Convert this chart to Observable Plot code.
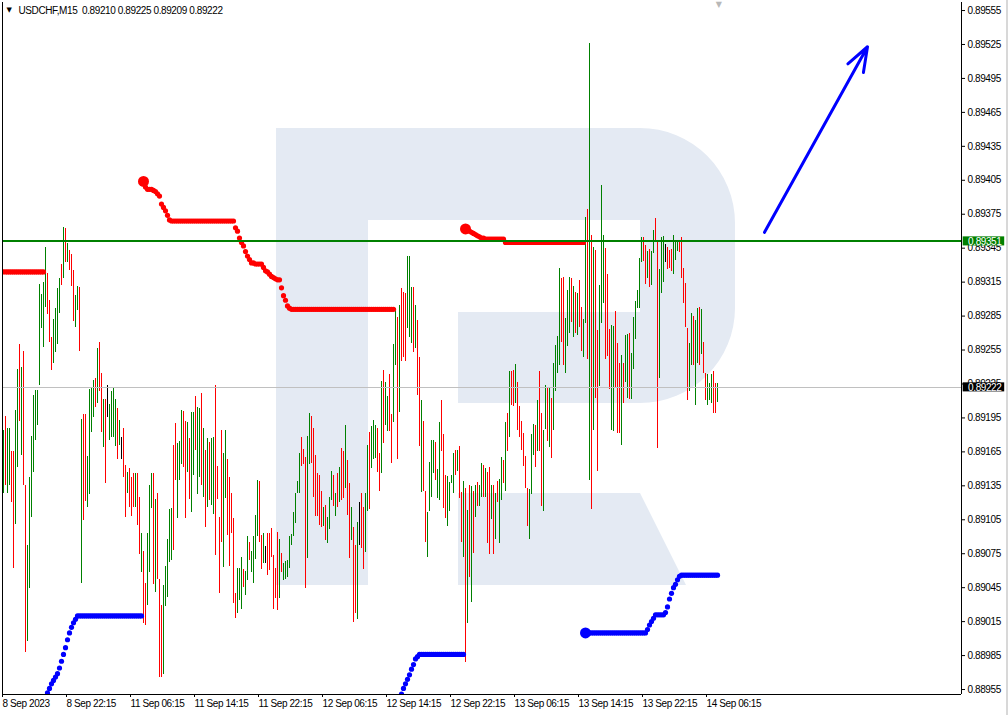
<!DOCTYPE html>
<html><head><meta charset="utf-8">
<script src="https://cdn.jsdelivr.net/npm/d3@7"></script>
<script src="https://cdn.jsdelivr.net/npm/@observablehq/plot@0.6"></script>
<style>
html,body{margin:0;padding:0;background:#fff;}
#wrap{position:relative;width:1008px;height:715px;overflow:hidden;background:#fff;}
#logo{position:absolute;left:0;top:0;}
#chart{position:absolute;left:0;top:0;}
#edge{position:absolute;right:0;top:0;width:2px;height:715px;background:#d8d8d8;}
</style></head><body>
<div id="wrap">
<svg id="logo" width="1008" height="715">
  <g fill="#e4eaf3">
    <rect x="276" y="128" width="92" height="457"/>
    <path d="M368,128 H640 A95,95 0 0 1 735,223 V308 A95,95 0 0 1 640,403 H458 V312 H640 V220 H368 Z"/>
    <path d="M458,493 H640 L686,585 H458 Z"/>
  </g>
</svg>
<div id="chart"></div>
<div id="edge"></div>
</div>
<script>
// ---- Data (prices in 1e-5 units) ----
const symbolTitle = "USDCHF,M15\u00a0\u00a00.89210 0.89225 0.89209 0.89222";

const timeTickIndex = [0,32,64,96,128,160,192,224,256,288,320,352];
const timeTickLabels = ["8 Sep 2023","8 Sep 22:15","11 Sep 06:15","11 Sep 14:15","11 Sep 22:15","12 Sep 06:15","12 Sep 14:15","12 Sep 22:15","13 Sep 06:15","13 Sep 14:15","13 Sep 22:15","14 Sep 06:15"];

const priceTicks = [0.89555,0.89525,0.89495,0.89465,0.89435,0.89405,0.89375,0.89345,0.89315,0.89285,0.89255,0.89225,0.89195,0.89165,0.89135,0.89105,0.89075,0.89045,0.89015,0.88985,0.88955];

// bar direction: 1 = up (green), 0 = down (red), 2 = doji (black)
const barDir = [
1,0,1,1,0,0,1,1,0,1, 0,0,1,1,1,1,1,1,1,1, 1,1,0,0,0,1,1,1,1,0, 1,0,1,0,0,0,1,1,0,1,
0,0,1,1,1,1,0,1,0,0, 1,0,2,1,1,1,1,0,1,2, 0,0,1,0,0,0,1,0,0,1, 0,0,1,1,1,0,1,0,0,0,
1,1,1,1,1,0,0,1,1,1, 0,0,1,0,1,1,0,1,1,0, 1,0,1,0,1,1,0,0,0,0, 1,1,0,0,0,0,0,1,1,1,
0,1,1,0,1,1,1,1,0,0, 1,2,0,0,0,0,0,0,1,0, 1,1,1,1,1,1,1,1,1,0, 0,0,1,1,0,0,0,0,0,0,
1,0,1,1,1,0,1,0,1,0, 0,1,0,0,1,0,0,1,2,0, 0,1,1,0,1,1,1,0,0,1, 0,1,1,0,0,1,1,0,1,0,
0,0,1,1,1,0,1,0,0,1, 0,0,1,1,1,1,0,1,1,0, 0,0,1,1,1,1,0,1,0,0, 1,0,1,0,1,0,1,0,1,1,
0,1,0,0,1,0,1,0,1,1, 0,1,0,1,0,0,1,0,0,0, 0,0,0,1,1,1,0,1,0,0, 1,1,0,1,0,1,1,1,1,0,
0,1,1,1,0,1,0,1,0,0, 1,1,0,1,0,1,0,0,1,1, 1,0,0,0,1,1,0,0,0,1, 0,1,1,0,1,1,1,1,1,1,
0,0,1,0,1,1,0,0,1,1, 1,2,0,0,0,1,1,1,0,0, 0,0,0,1,1,0,1,1,0,1, 0,0,1,1,1,0,0,1
];

const highPts = [
89184,89196,89186,89186,89165,89165,89202,89238,89260,89240,
89254,89135,89082,89142,89179,89215,89219,89219,89313,89304,
89315,89346,89323,89299,89266,89282,89292,89309,89318,89331,
89363,89362,89349,89343,89339,89325,89303,89311,89310,89194,
89198,89198,89161,89220,89222,89228,89230,89256,89262,89234,
89211,89211,89224,89207,89218,89222,89211,89203,89193,89178,
89186,89153,89147,89150,89142,89146,89146,89146,89125,89093,
89077,89049,89093,89135,89146,89146,89123,89128,89052,89029,
89047,89064,89088,89114,89115,89171,89190,89172,89174,89202,
89201,89192,89191,89177,89200,89200,89214,89204,89203,89217,
89186,89166,89177,89173,89177,89178,89224,89152,89107,89184,
89164,89184,89158,89142,89128,89106,89040,89062,89062,89072,
89061,89059,89090,89085,89077,89090,89109,89140,89139,89091,
89093,89081,89093,89093,89097,89073,89062,89094,89088,89075,
89066,89068,89069,89090,89092,89111,89128,89139,89164,89178,
89167,89160,89179,89199,89196,89186,89162,89146,89144,89130,
89116,89118,89107,89125,89148,89144,89128,89146,89151,89168,
89165,89188,89157,89137,89116,89098,89082,89103,89120,89128,
89116,89128,89171,89182,89187,89193,89188,89186,89164,89227,
89237,89226,89214,89233,89198,89260,89292,89284,89294,89309,
89306,89305,89338,89338,89310,89310,89294,89281,89248,89210,
89192,89130,89111,89156,89175,89175,89173,89149,89191,89210,
89180,89144,89143,89138,89144,89164,89166,89166,89170,89129,
89139,89133,89113,89135,89134,89130,89135,89138,89135,89155,
89153,89150,89147,89151,89135,89135,89128,89139,89141,89160,
89157,89191,89199,89236,89236,89237,89242,89226,89205,89192,
89181,89161,89133,89132,89180,89189,89188,89210,89236,89199,
89184,89224,89222,89222,89212,89243,89259,89267,89327,89318,
89319,89283,89308,89319,89318,89311,89306,89305,89316,89293,
89282,89372,89379,89526,89356,89346,89343,89272,89312,89400,
89356,89345,89322,89273,89277,89276,89289,89261,89243,89250,
89243,89268,89269,89270,89252,89284,89298,89308,89336,89354,
89354,89347,89342,89344,89342,89361,89371,89352,89326,89354,
89355,89348,89346,89343,89344,89356,89352,89350,89350,89354,
89327,89314,89274,89261,89287,89285,89281,89292,89293,89291,
89262,89234,89233,89225,89233,89236,89225,89225
];

const lowPts = [
89128,89135,89128,89135,89120,89062,89101,89151,89192,89162,
89135,88988,88997,89044,89107,89147,89175,89188,89224,89274,
89257,89293,89286,89262,89237,89243,89253,89260,89287,89312,
89318,89332,89332,89325,89311,89280,89275,89290,89254,89049,
89104,89121,89116,89127,89182,89195,89204,89208,89218,89182,
89169,89137,89195,89175,89178,89178,89170,89158,89171,89158,
89142,89107,89128,89116,89108,89116,89116,89100,89074,89058,
89013,89012,89029,89058,89115,89048,89041,89052,88966,88966,
88968,89028,89036,89067,89069,89078,89140,89106,89140,89154,
89151,89106,89147,89123,89111,89144,89166,89127,89142,89135,
89125,89098,89116,89122,89118,89110,89073,89123,89040,89085,
89063,89124,89091,89064,89093,89031,89018,89022,89034,89026,
89045,89038,89051,89069,89058,89049,89070,89090,89085,89061,
89066,89066,89056,89060,89072,89026,89035,89025,89035,89058,
89051,89052,89054,89062,89082,89090,89102,89128,89128,89152,
89154,89044,89071,89154,89155,89125,89108,89108,89100,89098,
89099,89087,89084,89096,89122,89117,89108,89116,89120,89122,
89124,89133,89109,89071,89087,89014,89022,89017,89082,89080,
89061,89076,89112,89114,89150,89158,89159,89147,89130,89146,
89172,89188,89183,89183,89155,89191,89241,89158,89200,89245,
89248,89245,89274,89266,89261,89253,89256,89215,89170,89129,
89130,89085,89072,89112,89125,89146,89140,89124,89122,89165,
89115,89106,89099,89112,89137,89128,89144,89148,89124,89085,
89072,88979,89013,89054,89032,89075,89107,89117,89117,89125,
89125,89125,89084,89074,89105,89074,89088,89120,89084,89122,
89137,89130,89165,89178,89206,89205,89208,89184,89178,89166,
89152,89133,89099,89088,89127,89162,89151,89165,89165,89117,
89112,89185,89174,89169,89159,89184,89218,89234,89241,89262,
89241,89234,89258,89270,89279,89266,89270,89268,89275,89254,
89248,89278,89247,89140,89114,89184,89212,89148,89223,89278,
89296,89247,89249,89220,89184,89183,89221,89181,89181,89171,
89208,89226,89212,89211,89211,89238,89264,89292,89292,89332,
89333,89313,89318,89310,89312,89340,89350,89168,89230,89305,
89315,89332,89326,89327,89324,89322,89334,89342,89341,89318,
89296,89275,89210,89218,89241,89241,89206,89243,89241,89251,
89234,89210,89206,89210,89208,89199,89199,89209
];

// Parabolic SAR segments: first bar index, side, and values per bar
const sarStart = [0, 22, 70, 199, 231, 291];
const sarSide = ["upper","lower","upper","lower","upper","lower"];
const sarBigFirst = [false, false, true, false, true, true];
const sarRed1 = [
89324,89324,89324,89324,89324,89324,89324,89324,89324,89324,
89324,89324,89324,89324,89324,89324,89324,89324,89324,89324,
89324];
const sarBlue1 = [
88952,88956,88960,88963,88966,88969,88974,88980,88986,88992,
88999,89005,89010,89014,89017,
89020,89020,89020,89020,89020,89020,89020,89020,89020,89020,
89020,89020,89020,89020,89020,89020,89020,89020,89020,89020,
89020,89020,89020,89020,89020,89020,89020,89020,89020,89020,
89020,89020,89020];
const sarRed2 = [
89404,89399,89397,89397,89397,89396,89395,89393,89391,89384,
89381,89378,89374,89370,
89369,89369,89369,89369,89369,89369,89369,89369,89369,89369,
89369,89369,89369,89369,89369,89369,89369,89369,89369,89369,
89369,89369,89369,89369,89369,89369,89369,89369,89369,89369,
89369,89369,
89363,89360,89354,89350,89347,89342,89338,89335,89332,89332,
89331,89331,89331,89331,89328,89325,89324,89322,89320,89319,
89318,89317,89317,
89310,89303,89299,89294,89292,
89291,89291,89291,89291,89291,89291,89291,89291,89291,89291,
89291,89291,89291,89291,89291,89291,89291,89291,89291,89291,
89291,89291,89291,89291,89291,89291,89291,89291,89291,89291,
89291,89291,89291,89291,89291,89291,89291,89291,89291,89291,
89291,89291,89291,89291,89291,89291,89291,89291,89291,89291,
89291,89291];
const sarBlue2 = [
88951,88956,88960,88964,88968,88973,88977,88982,88984,
88986,88986,88986,88986,88986,88986,88986,88986,88986,88986,
88986,88986,88986,88986,88986,88986,88986,88986,88986,88986,
88986,88986,88986];
const sarRed3 = [
89362,89361,89360,89359,89358,89357,89356,89355,89354,89354,
89353,89353,89353,89353,89353,89353,89353,89353,89353,89353,
89350,89350,89350,89350,89350,89350,89350,89350,89350,89350,
89350,89350,89350,89350,89350,89350,89350,89350,89350,89350,
89350,89350,89350,89350,89350,89350,89350,89350,89350,89350,
89350,89350,89350,89350,89350,89350,89350,89350,89350,89350];
const sarBlue3 = [
89005,89005,89005,89005,89005,89005,89005,89005,89005,89005,
89005,89005,89005,89005,89005,89005,89005,89005,89005,89005,
89005,89005,89005,89005,89005,89005,89005,89005,89005,89005,
89005,
89008,89012,89015,89018,89021,89021,89021,89021,89021,89023,
89028,89035,89040,89045,89048,89052,89055,
89056,89056,89056,89056,89056,89056,89056,89056,89056,89056,
89056,89056,89056,89056,89056,89056,89056,89056,89056];
const sarValues = [sarRed1, sarBlue1, sarRed2, sarBlue2, sarRed3, sarBlue3];

const levelLine = 0.89351;    // green horizontal level
const lastPrice = 0.89222;    // current bid line
const arrowX = [380.5, 432];  // bar index
const arrowY = [0.89359, 0.89523];

// ---- Build tables ----
const bars = highPts.map((h, i) => ({i, high: h / 1e5, low: lowPts[i] / 1e5, dir: barDir[i]}));
const sarPts = [];
sarValues.forEach((vals, s) => vals.forEach((v, k) => sarPts.push({
  i: sarStart[s] + k, v: v / 1e5, side: sarSide[s], big: sarBigFirst[s] && k === 0
})));

const FONT = '"Liberation Sans",Arial,sans-serif';
const labelFmt = d3.format(".5f");
const halfBox = 0.00004;

const chart = Plot.plot({
  width: 1008, height: 715,
  marginTop: 2, marginBottom: 21, marginLeft: 3, marginRight: 47,
  x: {domain: [0, 479], axis: null, label: null},
  y: {domain: [0.889506, 0.895621], axis: null, label: null},
  style: {background: "transparent", fontFamily: FONT, fontSize: "10px", letterSpacing: "-0.4px", color: "black", overflow: "visible"},
  marks: [
    Plot.ruleX(bars.filter(d => d.dir === 1), {x: "i", y1: "low", y2: "high", stroke: "#008000", strokeWidth: 1, shapeRendering: "crispEdges", clip: true}),
    Plot.ruleX(bars.filter(d => d.dir === 0), {x: "i", y1: "low", y2: "high", stroke: "#ff0000", strokeWidth: 1, shapeRendering: "crispEdges", clip: true}),
    Plot.ruleX(bars.filter(d => d.dir === 2), {x: "i", y1: "low", y2: "high", stroke: "#000000", strokeWidth: 1, shapeRendering: "crispEdges", clip: true}),
    Plot.dot(sarPts.filter(d => d.side === "upper" && !d.big), {x: "i", y: "v", r: 2.6, fill: "#ff0000", clip: true}),
    Plot.dot(sarPts.filter(d => d.side === "lower" && !d.big), {x: "i", y: "v", r: 2.6, fill: "#0000ff", clip: true}),
    Plot.dot(sarPts.filter(d => d.side === "upper" && d.big), {x: "i", y: "v", r: 5.5, fill: "#ff0000", clip: true}),
    Plot.dot(sarPts.filter(d => d.side === "lower" && d.big), {x: "i", y: "v", r: 5.5, fill: "#0000ff", clip: true}),
    Plot.ruleY([lastPrice], {stroke: "#c0c0c0", strokeWidth: 1, shapeRendering: "crispEdges"}),
    Plot.ruleY([levelLine], {stroke: "#008000", strokeWidth: 2, shapeRendering: "crispEdges"}),
    Plot.arrow([0], {x1: () => arrowX[0], y1: () => arrowY[0], x2: () => arrowX[1], y2: () => arrowY[1],
      stroke: "#0000ff", strokeWidth: 3, headLength: 13, headAngle: 40}),
    // frame borders
    Plot.ruleX([-0.5, 479], {stroke: "black", strokeWidth: 1, shapeRendering: "crispEdges"}),
    Plot.ruleY([0.889506], {stroke: "black", strokeWidth: 1.5, shapeRendering: "crispEdges"}),
    Plot.axisX(timeTickIndex, {anchor: "bottom", label: null, tickSize: 3, tickPadding: 2, textAnchor: "start", dx: -1,
      tickFormat: (d) => timeTickLabels[timeTickIndex.indexOf(d)], fontSize: 10}),
    Plot.axisY(priceTicks, {anchor: "right", label: null, tickSize: 3, tickPadding: 3, tickFormat: labelFmt, fontSize: 10}),
    // price label boxes
    Plot.rect([levelLine], {x1: 479.85, x2: 500.6, y1: d => d - halfBox, y2: d => d + halfBox, fill: "#008000"}),
    Plot.text([levelLine], {x: 482.3, y: d => d, text: d => labelFmt(d), fill: "white", textAnchor: "start", fontSize: 10}),
    Plot.rect([lastPrice], {x1: 479.85, x2: 500.6, y1: d => d - halfBox, y2: d => d + halfBox, fill: "#000000"}),
    Plot.text([lastPrice], {x: 482.3, y: d => d, text: d => labelFmt(d), fill: "white", textAnchor: "start", fontSize: 10}),
    // title
    Plot.text(["\u25BC"], {frameAnchor: "top-left", dx: 3, dy: 5, textAnchor: "start", fontSize: 7, fontFamily: "DejaVu Sans", fill: "black"}),
    Plot.text([symbolTitle], {frameAnchor: "top-left", dx: 15, dy: 4, textAnchor: "start", fontSize: 10, fill: "black"}),
    Plot.text([357.5], {x: d => d, frameAnchor: "top", text: () => "\u25BC", dy: -1, fontSize: 8, fontFamily: "DejaVu Sans", fill: "#b8b8b8"})
  ]
});
document.getElementById("chart").appendChild(chart);
</script>
</body></html>
